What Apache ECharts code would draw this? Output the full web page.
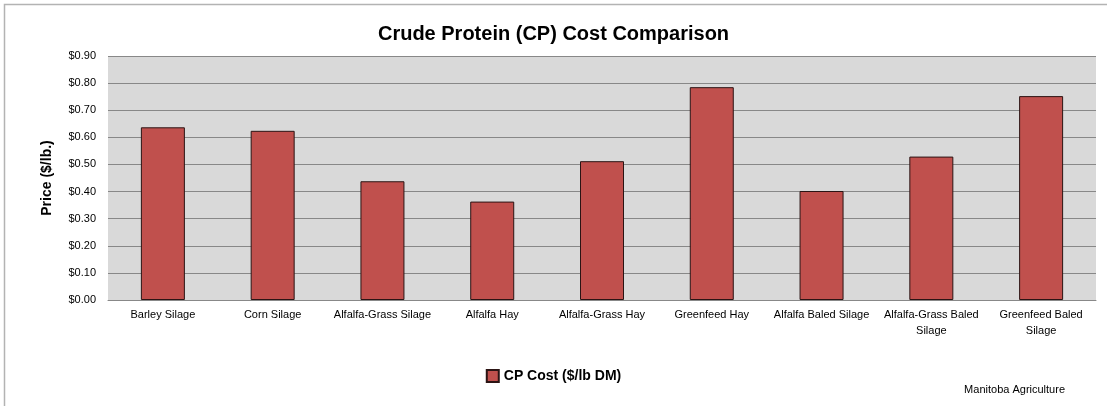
<!DOCTYPE html>
<html lang="en">
<head>
    <meta charset="UTF-8">
    <script src="https://cdn.jsdelivr.net/npm/echarts@6.0.0/dist/echarts.min.js"></script>
    <style>
        html, body { margin: 0; padding: 0; background: #fff; }
        #chart { width: 1107px; height: 406px; }
    </style>
</head>
<body>
<div id="chart"></div>
<script>
    // data
    var categories = ['Barley Silage', 'Corn Silage', 'Alfalfa-Grass Silage', 'Alfalfa Hay', 'Alfalfa-Grass Hay',
        'Greenfeed Hay', 'Alfalfa Baled Silage', 'Alfalfa-Grass Baled Silage', 'Greenfeed Baled Silage'];
    var categoryLabels = ['Barley Silage', 'Corn Silage', 'Alfalfa-Grass Silage', 'Alfalfa Hay', 'Alfalfa-Grass Hay',
        'Greenfeed Hay', 'Alfalfa Baled Silage', 'Alfalfa-Grass Baled\nSilage', 'Greenfeed Baled\nSilage'];
    var cpCost = [0.637, 0.624, 0.438, 0.363, 0.512, 0.785, 0.402, 0.529, 0.752];
    var seriesName = 'CP Cost ($/lb DM)';

    var font = 'Liberation Sans, Arial, sans-serif';
    var myChart = echarts.init(document.getElementById('chart'));
    var option = {
        animation: false,
        title: {
            text: 'Crude Protein (CP) Cost Comparison',
            left: 'center',
            top: 19,
            textStyle: { fontFamily: font, fontSize: 20, fontWeight: 'bold', color: '#000' }
        },
        legend: {
            bottom: 18,
            left: 'center',
            icon: 'rect',
            itemWidth: 12,
            itemHeight: 12,
            itemGap: 4,
            data: [seriesName],
            textStyle: { fontFamily: font, fontSize: 14, fontWeight: 'bold', color: '#000' }
        },
        graphic: [
            {
                type: 'rect',
                shape: { x: 4.5, y: 4.5, width: 1120, height: 420 },
                style: { fill: 'none', stroke: '#b3b3b3', lineWidth: 1.5 },
                silent: true
            },
            {
                type: 'text',
                right: 42,
                bottom: 11,
                style: { text: 'Manitoba Agriculture', fontFamily: font, fontSize: 11, fill: '#000' }
            }
        ],
        grid: {
            left: 108,
            right: 11,
            top: 56,
            bottom: 106,
            show: true,
            backgroundColor: '#d9d9d9',
            borderWidth: 0
        },
        xAxis: {
            type: 'category',
            data: categories,
            axisLine: { lineStyle: { color: '#888888', width: 1 } },
            axisTick: { show: false },
            axisLabel: {
                interval: 0,
                margin: 7,
                fontFamily: font,
                fontSize: 11,
                color: '#000',
                lineHeight: 16,
                formatter: function (v, i) { return categoryLabels[i]; }
            }
        },
        yAxis: {
            type: 'value',
            min: 0,
            max: 0.9,
            interval: 0.1,
            name: 'Price ($/lb.)',
            nameLocation: 'middle',
            nameGap: 54,
            nameTextStyle: { fontFamily: font, fontSize: 14, fontWeight: 'bold', color: '#000' },
            axisLine: { show: false },
            axisTick: { show: false },
            splitLine: { lineStyle: { color: '#888888', width: 1 } },
            axisLabel: {
                margin: 12,
                fontFamily: font,
                fontSize: 11,
                color: '#000',
                formatter: function (v) { return '$' + v.toFixed(2); }
            }
        },
        series: [{
            name: seriesName,
            type: 'bar',
            data: cpCost,
            barWidth: 44,
            itemStyle: { color: '#c0504d', borderColor: '#2b1414', borderWidth: 1 }
        }]
    };
    myChart.setOption(option);
</script>
</body>
</html>
